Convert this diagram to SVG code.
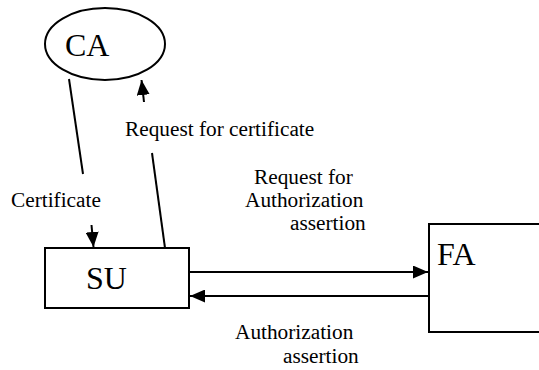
<svg xmlns="http://www.w3.org/2000/svg" width="539" height="370" viewBox="0 0 539 370">
<style>
.shape{fill:#fff;stroke:#000;stroke-width:2}
.big{font-family:"Liberation Serif",serif;font-size:32px;fill:#000}
.lbl{font-family:"Liberation Serif",serif;font-size:21.3px;fill:#000}
.ln{stroke:#000;stroke-width:2;fill:none}
</style>
<defs>
<marker id="ah" markerWidth="15" markerHeight="13" refX="15" refY="6.5" orient="auto" markerUnits="userSpaceOnUse">
<path d="M0,0 L15,6.5 L0,13 Z" fill="#000"/>
</marker>
</defs>
<rect width="539" height="370" fill="#fff"/>
<g id="connectors">
<line class="ln" x1="69" y1="79" x2="83" y2="174"/>
<line class="ln" x1="91.5" y1="225" x2="93.5" y2="247" marker-end="url(#ah)"/>
<line class="ln" x1="165" y1="248" x2="152" y2="153"/>
<line class="ln" x1="144" y1="102" x2="141.5" y2="80" marker-end="url(#ah)"/>
<line class="ln" x1="189" y1="272" x2="428" y2="272" marker-end="url(#ah)"/>
<line class="ln" x1="429" y1="296" x2="190" y2="296" marker-end="url(#ah)"/>
<text class="lbl" x="125" y="136">Request for certificate</text>
<text class="lbl" x="11" y="207">Certificate</text>
<text class="lbl" x="254" y="184">Request for</text>
<text class="lbl" x="245" y="207">Authorization</text>
<text class="lbl" x="290" y="230">assertion</text>
<text class="lbl" x="235" y="339">Authorization</text>
<text class="lbl" x="283" y="363">assertion</text>
</g>
<g id="CA">
<ellipse class="shape" cx="105" cy="44" rx="60" ry="36"/>
<text class="big" x="65" y="56">CA</text>
</g>
<g id="SU">
<rect class="shape" x="45" y="248" width="144" height="60"/>
<text class="big" x="86" y="289">SU</text>
</g>
<g id="FA">
<rect class="shape" x="429" y="224" width="120" height="108"/>
<text class="big" x="437" y="265">FA</text>
</g>
</svg>
